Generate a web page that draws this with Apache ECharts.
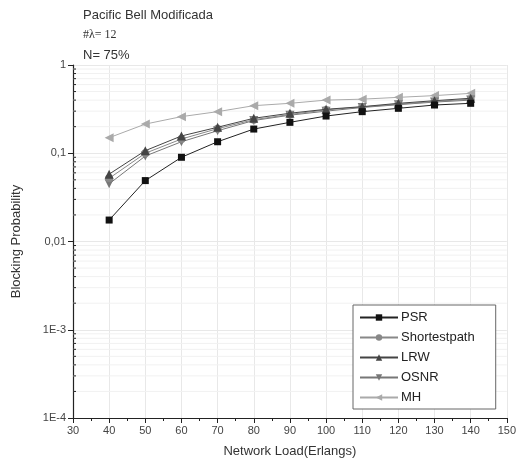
<!DOCTYPE html>
<html><head><meta charset="utf-8">
<script src="https://cdn.jsdelivr.net/npm/echarts@6/dist/echarts.min.js"></script>
<style>html,body{margin:0;padding:0;background:#fff}#c{width:519px;height:474px}</style>
</head><body><div id="c"></div>
<script>
var loads = [40, 50, 60, 70, 80, 90, 100, 110, 120, 130, 140];
var psr = [0.0175, 0.049, 0.09, 0.135, 0.188, 0.224, 0.264, 0.296, 0.323, 0.352, 0.368];
var shortestpath = [0.052, 0.100, 0.145, 0.19, 0.24, 0.275, 0.31, 0.335, 0.36, 0.385, 0.41];
var lrw = [0.058, 0.107, 0.157, 0.197, 0.249, 0.284, 0.315, 0.337, 0.368, 0.394, 0.42];
var osnr = [0.045, 0.093, 0.135, 0.18, 0.235, 0.27, 0.30, 0.33, 0.355, 0.38, 0.40];
var mh = [0.15, 0.214, 0.26, 0.296, 0.346, 0.368, 0.40, 0.41, 0.43, 0.45, 0.477];
var yLabels = {'1': '1', '0.1': '0,1', '0.01': '0,01', '0.001': '1E-3', '0.0001': '1E-4'};

function pairs(arr) { return loads.map(function (x, i) { return [x, arr[i]]; }); }

var minorVals = [];
for (var d = -4; d < 0; d++) {
  for (var m = 2; m <= 9; m++) minorVals.push(m * Math.pow(10, d));
}

var chart = echarts.init(document.getElementById('c'));
var font = 'Liberation Sans, Arial, sans-serif';
chart.setOption({
  animation: false,
  textStyle: { fontFamily: font },
  grid: { left: 73, right: 12, top: 65, bottom: 56 },
  graphic: [
    { type: 'text', left: 83, top: 9, style: { text: 'Pacific Bell Modificada', font: '13px ' + font, fill: '#333' } },
    { type: 'text', left: 83, top: 29, style: { text: '#λ= 12', font: '12px Liberation Serif, serif', fill: '#333' } },
    { type: 'text', left: 83, top: 49, style: { text: 'N= 75%', font: '13px ' + font, fill: '#333' } }
  ],
  xAxis: {
    type: 'value', min: 30, max: 150, interval: 10,
    name: 'Network Load(Erlangs)', nameLocation: 'middle', nameGap: 27,
    nameTextStyle: { fontSize: 13, color: '#333' },
    axisLine: { lineStyle: { color: '#222', width: 1.2 } },
    axisTick: { length: 5, lineStyle: { color: '#222' } },
    minorTick: { show: true, splitNumber: 2, length: 3, lineStyle: { color: '#222' } },
    axisLabel: { fontSize: 11, color: '#444', margin: 7 },
    splitLine: { show: true, lineStyle: { color: '#e8e8e8' } }
  },
  yAxis: {
    type: 'log', min: 0.0001, max: 1, logBase: 10,
    name: 'Blocking Probability', nameLocation: 'middle', nameGap: 50, nameRotate: 90,
    nameTextStyle: { fontSize: 13, color: '#333' },
    axisLine: { show: true, lineStyle: { color: '#222', width: 1.2 } },
    axisTick: { show: true, length: 5, lineStyle: { color: '#222' } },
    axisLabel: { fontSize: 11, color: '#444', margin: 7,
      formatter: function (v) { var k = String(+v.toPrecision(1)); return yLabels[k] || k; } },
    splitLine: { show: true, lineStyle: { color: '#e8e8e8' } }
  },
  legend: {
    orient: 'vertical', left: 353, top: 305,
    padding: [5, 21, 4, 6], itemGap: 5, itemWidth: 38, itemHeight: 8,
    borderColor: '#666', borderWidth: 1, backgroundColor: '#fff',
    textStyle: { fontSize: 13, color: '#222', fontFamily: font, padding: [0, 0, 0, -2], lineHeight: 15 },
    data: ['PSR', 'Shortestpath', 'LRW', 'OSNR', 'MH']
  },
  series: [
    {
      type: 'custom', silent: true, z: 1, legendHoverLink: false,
      data: minorVals.map(function (v) { return [v]; }),
      renderItem: function (params, api) {
        var v = api.value(0);
        var p0 = api.coord([30, v]);
        var p1 = api.coord([150, v]);
        return { type: 'group', children: [
          { type: 'line', shape: { x1: p0[0], y1: p0[1], x2: p1[0], y2: p1[1] }, style: { stroke: '#f1f1f1', lineWidth: 1 } },
          { type: 'line', shape: { x1: p0[0], y1: p0[1], x2: p0[0] + 3, y2: p0[1] }, style: { stroke: '#222', lineWidth: 1 } }
        ] };
      },
      encode: { y: 0 }
    },
    { name: 'PSR', type: 'line', data: pairs(psr), symbol: 'rect', symbolSize: 7,
      itemStyle: { color: '#111' }, lineStyle: { color: '#222', width: 1 }, z: 6 },
    { name: 'Shortestpath', type: 'line', data: pairs(shortestpath), symbol: 'circle', symbolSize: 8,
      itemStyle: { color: '#888' }, lineStyle: { color: '#888', width: 1 }, z: 4 },
    { name: 'LRW', type: 'line', data: pairs(lrw), symbol: 'triangle', symbolSize: 9,
      itemStyle: { color: '#444' }, lineStyle: { color: '#444', width: 1 }, z: 5 },
    { name: 'OSNR', type: 'line', data: pairs(osnr), symbol: 'triangle', symbolRotate: 180, symbolSize: 9,
      itemStyle: { color: '#777' }, lineStyle: { color: '#777', width: 1 }, z: 3 },
    { name: 'MH', type: 'line', data: pairs(mh), symbol: 'triangle', symbolRotate: 90, symbolSize: 9,
      itemStyle: { color: '#aaa' }, lineStyle: { color: '#aaa', width: 1 }, z: 2 }
  ]
});
</script>
</body></html>
